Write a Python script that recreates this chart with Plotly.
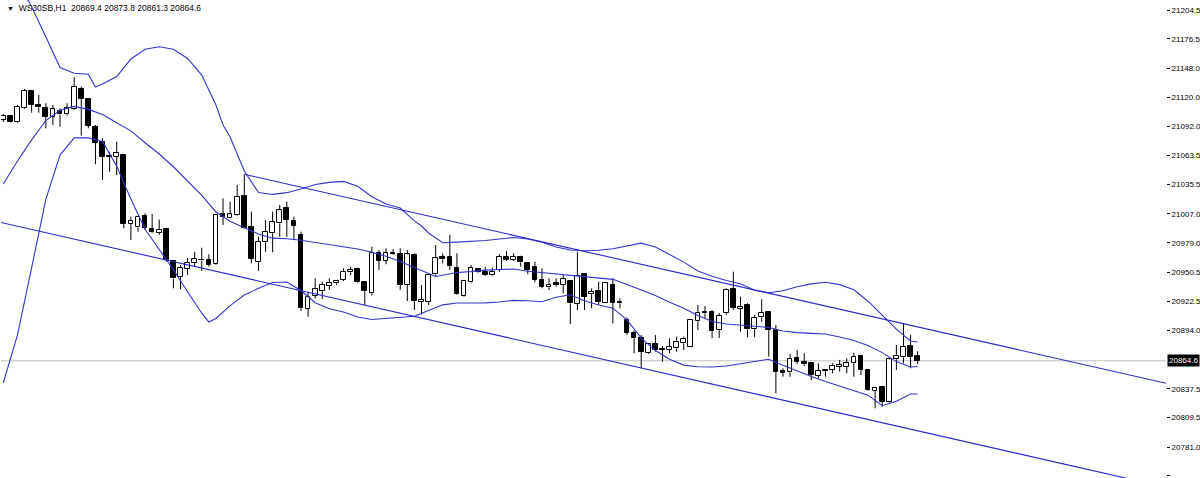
import numpy as np
import plotly.graph_objects as go

symbol = "WS30SB,H1"

opn = [21097.9, 21102.1, 21095.7, 21109.3, 21126.3, 21112.8, 21109.8, 21101.1, 21106.9, 21103.4,
       21108.3, 21128.0, 21118.3, 21091.4, 21076.9, 21062.6, 21062.4, 21064.3, 20997.1, 20993.8,
       21004.9, 20992.0, 20988.7, 20992.3, 20961.3, 20946.1, 20953.5, 20959.6, 20961.8, 20962.3,
       20958.1, 21006.5, 21003.2, 21005.9, 21024.6, 20994.5, 20960.6, 20979.4, 20988.1, 20997.8,
       21012.4, 21000.0, 20986.5, 20914.8, 20927.4, 20932.5, 20937.3, 20939.7, 20942.9, 20950.3,
       20953.2, 20940.6, 20930.0, 20968.8, 20961.3, 20969.3, 20967.8, 20938.0, 20967.1, 20921.3,
       20921.9, 20948.4, 20964.9, 20965.5, 20954.8, 20927.7, 20940.6, 20953.2, 20950.3, 20947.7,
       20952.6, 20965.5, 20962.3, 20964.9, 20959.1, 20955.8, 20942.9, 20935.8, 20939.7, 20938.0,
       20942.2, 20919.6, 20948.7, 20929.0, 20932.5, 20920.9, 20938.0, 20921.9, 20904.1, 20891.8,
       20886.4, 20872.4, 20880.9, 20876.3, 20875.0, 20876.7, 20881.5, 20878.2, 20903.4, 20912.2,
       20912.2, 20894.4, 20910.6, 20933.9, 20914.8, 20918.7, 20895.1, 20906.7, 20912.2, 20894.4,
       20854.7, 20853.4, 20867.0, 20863.4, 20862.2, 20849.9, 20854.7, 20855.7, 20858.9, 20858.9,
       20862.2, 20869.2, 20855.7, 20835.6, 20839.5, 20825.0, 20866.0, 20868.0, 20878.9, 20869.4]
high = [21103.7, 21102.8, 21112.5, 21128.0, 21127.0, 21122.1, 21114.1, 21112.5, 21109.3, 21114.1,
        21139.3, 21130.2, 21119.0, 21093.1, 21080.2, 21067.2, 21076.9, 21065.0, 21004.2, 21004.9,
        21007.5, 21006.8, 21001.4, 20993.0, 20962.3, 20957.4, 20964.2, 20970.3, 20974.2, 20967.8,
        21006.5, 21022.0, 21018.8, 21034.9, 21045.3, 21009.1, 20984.8, 21001.0, 21009.1, 21015.5,
        21018.8, 21004.2, 20989.7, 20931.5, 20944.5, 20941.2, 20944.5, 20942.9, 20954.2, 20955.8,
        20954.8, 20941.9, 20975.1, 20972.0, 20973.6, 20972.9, 20973.6, 20972.0, 20968.8, 20938.0,
        20949.4, 20976.8, 20968.8, 20986.5, 20968.8, 20942.9, 20957.4, 20954.2, 20955.8, 20954.8,
        20967.8, 20971.0, 20968.8, 20966.4, 20959.6, 20960.6, 20954.2, 20944.5, 20944.5, 20947.7,
        20942.9, 20970.3, 20949.4, 20934.8, 20941.2, 20941.2, 20944.5, 20925.1, 20906.7, 20893.7,
        20889.6, 20881.5, 20889.6, 20878.9, 20886.4, 20888.0, 20888.0, 20904.8, 20918.7, 20917.7,
        20913.8, 20910.9, 20934.8, 20950.9, 20926.7, 20920.3, 20909.0, 20924.2, 20913.0, 20899.3,
        20857.3, 20871.2, 20875.0, 20871.9, 20863.1, 20862.2, 20855.7, 20862.2, 20865.4, 20867.0,
        20872.4, 20870.2, 20856.3, 20839.5, 20840.2, 20868.0, 20879.9, 20900.9, 20889.6, 20873.8]
low = [21096.0, 21095.3, 21094.7, 21108.3, 21105.0, 21105.0, 21089.9, 21093.1, 21091.4, 21102.1,
       21107.6, 21082.7, 21089.9, 21055.0, 21039.8, 21047.8, 21044.6, 20993.0, 20981.6, 20989.7,
       20991.3, 20988.1, 20986.5, 20960.6, 20934.8, 20933.9, 20947.7, 20955.8, 20951.6, 20955.8,
       20957.4, 20996.2, 21002.7, 21005.2, 20993.0, 20959.1, 20951.6, 20970.3, 20969.7, 20984.8,
       20984.8, 20981.6, 20912.8, 20907.3, 20925.1, 20924.5, 20933.2, 20938.0, 20941.9, 20947.7,
       20940.0, 20918.7, 20927.7, 20952.6, 20958.1, 20967.1, 20933.2, 20922.5, 20913.8, 20909.6,
       20918.7, 20947.0, 20959.1, 20952.6, 20928.3, 20926.7, 20939.7, 20949.4, 20947.0, 20947.0,
       20950.9, 20961.3, 20961.3, 20955.8, 20948.4, 20940.6, 20934.8, 20933.2, 20936.4, 20930.0,
       20900.2, 20913.8, 20913.8, 20915.5, 20918.7, 20920.3, 20900.9, 20915.5, 20889.6, 20871.9,
       20857.3, 20871.2, 20873.4, 20863.7, 20871.9, 20873.4, 20875.0, 20877.7, 20894.4, 20905.8,
       20886.4, 20886.7, 20909.0, 20913.8, 20892.8, 20887.4, 20887.4, 20902.5, 20868.6, 20833.1,
       20849.2, 20849.2, 20861.5, 20859.5, 20846.0, 20847.6, 20849.2, 20852.5, 20854.0, 20852.5,
       20849.2, 20850.8, 20835.6, 20818.5, 20820.1, 20824.0, 20855.7, 20862.2, 20857.3, 20861.3]
close = [21101.8, 21095.7, 21110.8, 21126.3, 21112.5, 21110.2, 21101.1, 21108.3, 21103.4, 21109.3,
         21129.6, 21118.3, 21092.1, 21075.9, 21062.4, 21062.1, 21066.2, 20997.1, 21000.0, 21004.2,
         20993.0, 20989.1, 20991.8, 20962.3, 20944.5, 20954.2, 20959.6, 20962.9, 20962.7, 20957.4,
         21005.9, 21004.2, 21006.5, 21023.6, 20993.6, 20963.2, 20980.0, 20989.7, 20998.8, 21010.7,
         21001.0, 20995.5, 20915.5, 20926.7, 20933.9, 20938.0, 20940.3, 20942.2, 20950.9, 20952.6,
         20940.6, 20932.2, 20968.8, 20961.3, 20968.8, 20967.8, 20938.0, 20967.8, 20922.5, 20923.8,
         20947.7, 20963.9, 20962.9, 20956.7, 20929.0, 20941.9, 20954.8, 20950.3, 20947.7, 20950.9,
         20965.5, 20962.3, 20965.5, 20960.0, 20952.6, 20942.9, 20936.4, 20938.0, 20938.0, 20943.6,
         20920.3, 20946.8, 20926.7, 20931.5, 20921.9, 20939.7, 20920.9, 20920.3, 20891.8, 20886.4,
         20873.4, 20880.9, 20875.0, 20875.3, 20878.2, 20883.1, 20885.4, 20904.1, 20911.2, 20910.6,
         20893.8, 20908.0, 20933.2, 20915.5, 20917.0, 20895.1, 20905.8, 20911.2, 20894.4, 20854.0,
         20853.1, 20866.3, 20863.7, 20861.5, 20850.8, 20855.0, 20855.5, 20859.5, 20860.5, 20862.2,
         20868.6, 20855.7, 20836.3, 20838.5, 20825.0, 20866.0, 20869.2, 20878.2, 20868.6, 20864.6]

# Bollinger bands (candle index, price)
bb_up_idx = [0, 2, 4, 6, 8, 10, 12, 13, 14, 16, 18, 20, 22, 24, 26, 28, 30, 31, 32, 34, 36, 38, 40,
             42, 44, 46, 48, 50, 52, 54, 56, 58, 59, 60, 62, 64, 66, 68, 70, 72, 74, 76, 78, 80, 82,
             84, 86, 88, 90, 92, 94, 96, 98, 100, 102, 104, 106, 108, 110, 112, 114, 116, 118, 120,
             122, 124, 126, 128, 129]
bb_up = [21257.8, 21232.6, 21207.7, 21178.5, 21148.8, 21143.2, 21142.3, 21129.9, 21132.8, 21140.0,
         21157.0, 21166.4, 21168.9, 21166.4, 21157.5, 21141.5, 21112.5, 21093.1, 21081.5, 21048.5,
         21027.7, 21025.8, 21027.5, 21031.1, 21035.4, 21037.5, 21038.4, 21033.7, 21023.5, 21016.5,
         21012.6, 21000.2, 20995.2, 20988.4, 20979.0, 20979.6, 20980.3, 20981.2, 20982.6, 20984.0,
         20982.6, 20979.4, 20974.9, 20972.0, 20971.2, 20971.7, 20973.2, 20976.1, 20978.6, 20974.9,
         20967.9, 20960.2, 20951.6, 20946.5, 20942.4, 20939.2, 20932.9, 20930.5, 20932.5, 20936.3,
         20939.1, 20940.7, 20938.4, 20933.4, 20922.3, 20908.3, 20895.2, 20883.8, 20882.8]

bb_mid_idx = [0, 2, 4, 6, 8, 10, 12, 14, 16, 18, 20, 22, 24, 26, 28, 30, 32, 34, 36, 38, 40, 42, 44,
              46, 48, 50, 52, 54, 56, 58, 60, 61, 62, 64, 66, 68, 70, 72, 74, 76, 78, 80, 82, 84, 86,
              88, 90, 92, 94, 96, 98, 100, 102, 104, 106, 108, 110, 112, 114, 116, 118, 120, 122,
              124, 126, 128, 129]
bb_mid = [21035.9, 21058.2, 21078.7, 21097.4, 21107.3, 21111.1, 21108.2, 21103.2, 21095.2, 21087.4,
          21075.9, 21065.0, 21052.6, 21038.4, 21024.9, 21008.8, 20999.9, 20993.6, 20987.5, 20983.4,
          20982.8, 20981.4, 20979.4, 20977.4, 20975.3, 20972.9, 20969.7, 20965.9, 20960.9, 20954.9,
          20949.1, 20946.3, 20947.5, 20950.1, 20951.0, 20952.4, 20953.0, 20953.5, 20951.4, 20950.1,
          20948.9, 20947.7, 20946.6, 20945.4, 20943.5, 20938.6, 20933.3, 20927.8, 20921.4, 20915.4,
          20908.4, 20902.6, 20900.2, 20898.9, 20898.1, 20896.9, 20893.5, 20891.9, 20891.1, 20890.6,
          20887.6, 20884.3, 20879.5, 20872.5, 20863.8, 20858.6, 20859.1]

bb_low_idx = [0, 2, 4, 6, 8, 10, 12, 14, 16, 18, 20, 22, 24, 26, 28, 29, 30, 32, 34, 36, 38, 40, 42,
              44, 46, 48, 50, 52, 54, 56, 58, 60, 62, 64, 66, 68, 70, 72, 74, 76, 78, 80, 82, 84, 86,
              88, 90, 92, 94, 96, 98, 100, 102, 104, 106, 108, 110, 112, 114, 116, 118, 120, 122,
              124, 126, 128, 129]
bb_low = [20843.1, 20889.6, 20954.9, 21021.0, 21063.9, 21080.6, 21080.6, 21077.0, 21053.0, 21021.4,
          20992.1, 20972.4, 20952.8, 20931.5, 20910.7, 20902.2, 20905.6, 20918.0, 20928.3, 20934.8,
          20940.4, 20940.9, 20932.7, 20920.9, 20915.0, 20911.8, 20907.0, 20904.6, 20905.5, 20906.5,
          20907.7, 20913.3, 20918.8, 20920.6, 20920.6, 20920.7, 20921.6, 20923.1, 20922.8, 20921.8,
          20926.1, 20928.6, 20922.7, 20918.7, 20915.6, 20904.3, 20886.5, 20874.5, 20866.1, 20860.4,
          20858.8, 20858.6, 20859.5, 20861.6, 20864.0, 20866.1, 20860.3, 20854.6, 20849.3, 20844.5,
          20840.2, 20836.0, 20831.3, 20821.1, 20825.3, 20832.4, 20832.4]

# Channel trend lines: two anchor points each (candle index, price)
chan_up_idx = [34, 164.0]
chan_up = [21045.3, 20842.9]
chan_low_idx = [0, 158.3]
chan_low = [20998.1, 20751.0]

tick_vals = [21204.5, 21176.5, 21148.0, 21120.0, 21092.0, 21063.5, 21035.5, 21007.0, 20979.0,
             20950.5, 20922.5, 20894.0, 20837.5, 20809.5, 20781.0, 20753.0]
tick_text = ["%.1f" % v for v in tick_vals]

X_MIN, X_MAX = -0.3245, 164.04
Y_MIN, Y_MAX = 20751.0, 21214.2
BAND_COLOR = "#3434cc"
CHAN_COLOR = "#2828c4"
FONT = "Liberation Sans, Arial, sans-serif"

idx = list(range(len(opn)))
fig = go.Figure()

# candle bodies
base = [min(o, c) for o, c in zip(opn, close)]
hgt = [max(abs(c - o), 0.3) for o, c in zip(opn, close)]
fill = ["white" if c >= o else "black" for o, c in zip(opn, close)]
fig.add_trace(go.Bar(x=idx, y=hgt, base=base, width=0.66,
                     marker=dict(color=fill, line=dict(color="black", width=1)),
                     hoverinfo="skip", zorder=0))

# wicks (outside the bodies)
wx, wy = [], []
for i, o, h, l, c in zip(idx, opn, high, low, close):
    top, bot = max(o, c), min(o, c)
    wx += [i, i, None, i, i, None]
    wy += [top, h, None, l, bot, None]
fig.add_trace(go.Scatter(x=wx, y=wy, mode="lines", line=dict(color="black", width=1),
                         hoverinfo="skip", zorder=1))

# Bollinger bands
for bx, by in ((bb_up_idx, bb_up), (bb_mid_idx, bb_mid), (bb_low_idx, bb_low)):
    fig.add_trace(go.Scatter(x=bx, y=by, mode="lines", line=dict(color=BAND_COLOR, width=1.1),
                             hoverinfo="skip", zorder=2))

# channel lines, extended as rays to the right
def ray(ax, ay, x_start, x_end):
    slope = (ay[1] - ay[0]) / (ax[1] - ax[0])
    xs = np.array([x_start, x_end])
    return xs, ay[0] + slope * (xs - ax[0])

ux, uy = ray(chan_up_idx, chan_up, chan_up_idx[0], X_MAX + 5)
lx, ly = ray(chan_low_idx, chan_low, X_MIN - 5, X_MAX + 5)
for xs, ys in ((ux, uy), (lx, ly)):
    fig.add_trace(go.Scatter(x=xs, y=ys, mode="lines", line=dict(color=CHAN_COLOR, width=1.1),
                             hoverinfo="skip", zorder=2))

last_close = close[-1]
fig.add_shape(type="line", xref="paper", x0=0, x1=1, y0=last_close, y1=last_close,
              line=dict(color="#c0c0c0", width=1), layer="below")
fig.add_annotation(x=1, xref="paper", y=last_close, yref="y", xanchor="left", yanchor="middle",
                   text="%.1f" % last_close, showarrow=False, bgcolor="black", borderpad=1,
                   xshift=1, font=dict(family=FONT, size=8, color="white"))

header = ("<span style='font-size:7px'>\u25bc</span>\u00a0\u00a0" + symbol + "\u00a0\u00a0"
          + "%.1f %.1f %.1f %.1f" % (opn[-1], high[-1], low[-1], close[-1]))
fig.add_annotation(x=0, xref="paper", y=1, yref="paper", xanchor="left", yanchor="top",
                   text=header, showarrow=False, xshift=4, yshift=-1,
                   font=dict(family=FONT, size=8.5, color="black"))

fig.update_layout(
    width=1200, height=478,
    margin=dict(l=1, r=34, t=0, b=0),
    paper_bgcolor="white", plot_bgcolor="white",
    showlegend=False, hovermode=False, bargap=0,
    xaxis=dict(range=[X_MIN, X_MAX], showgrid=False, zeroline=False, showticklabels=False,
               ticks="", showline=False, fixedrange=True),
    yaxis=dict(side="right", range=[Y_MIN, Y_MAX], tickvals=tick_vals, ticktext=tick_text,
               ticks="outside", ticklen=3, tickcolor="black", showline=True, linecolor="black",
               linewidth=1, mirror=True, showgrid=False, zeroline=False, fixedrange=True,
               tickfont=dict(family=FONT, size=8, color="black")),
)

fig.write_html("out.html", config={"displayModeBar": False},
               post_script="document.body.style.margin='0px';")
